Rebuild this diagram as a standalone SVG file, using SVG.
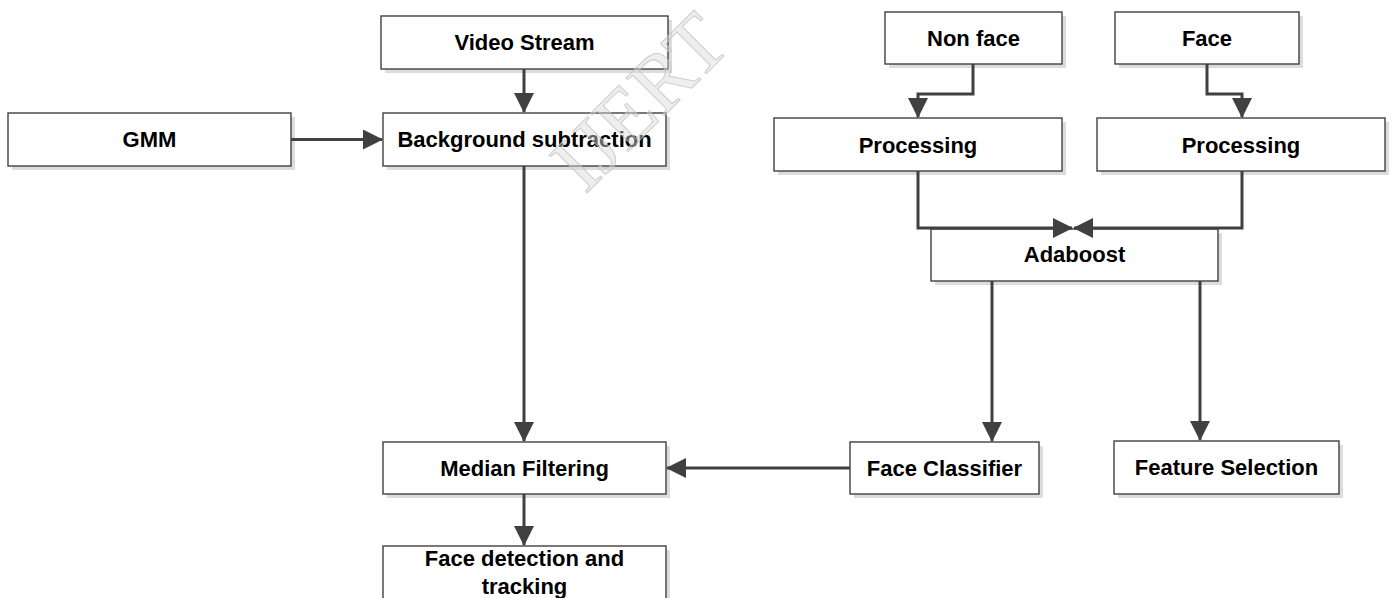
<svg xmlns="http://www.w3.org/2000/svg" width="1393" height="598" viewBox="0 0 1393 598">
<style>
.box{fill:#ffffff;stroke:#404040;stroke-width:1.4}
.shadow{fill:#dcdcdc}
.lbl{font-family:"Liberation Sans",Arial,sans-serif;font-weight:bold;font-size:22px;fill:#000;text-anchor:middle}
.conn{fill:none;stroke:#404040;stroke-width:3}
.wm{font-family:"Liberation Serif","Times New Roman",serif;font-size:82px;fill:#dadada;fill-opacity:0.45;stroke:#c0c0c0;stroke-opacity:0.7;stroke-width:1.1}
</style>
<defs>
<marker id="arr" viewBox="0 0 20 20" refX="19" refY="10" markerWidth="20" markerHeight="20" markerUnits="userSpaceOnUse" orient="auto">
<path d="M0,0 L20,10 L0,20 Z" fill="#404040"/>
</marker>
</defs>
<rect width="1393" height="598" fill="#ffffff"/>
<g id="video-stream"><rect class="shadow" x="385" y="20" width="287" height="53"/><rect class="box" x="381" y="16" width="287" height="53"/><text class="lbl" x="524.5" y="50">Video Stream</text></g>
<g id="gmm"><rect class="shadow" x="12" y="117" width="283" height="53"/><rect class="box" x="8" y="113" width="283" height="53"/><text class="lbl" x="149.5" y="147">GMM</text></g>
<g id="background-subtraction"><rect class="shadow" x="387" y="117" width="283" height="53"/><rect class="box" x="383" y="113" width="283" height="53"/><text class="lbl" x="524.5" y="147">Background subtraction</text></g>
<g id="non-face"><rect class="shadow" x="889" y="16" width="177" height="52"/><rect class="box" x="885" y="12" width="177" height="52"/><text class="lbl" x="973.5" y="46">Non face</text></g>
<g id="face"><rect class="shadow" x="1119" y="16" width="184" height="52"/><rect class="box" x="1115" y="12" width="184" height="52"/><text class="lbl" x="1207" y="46">Face</text></g>
<g id="processing-1"><rect class="shadow" x="778" y="122" width="288" height="53"/><rect class="box" x="774" y="118" width="288" height="53"/><text class="lbl" x="918" y="152.5">Processing</text></g>
<g id="processing-2"><rect class="shadow" x="1101" y="122" width="288" height="53"/><rect class="box" x="1097" y="118" width="288" height="53"/><text class="lbl" x="1241" y="152.5">Processing</text></g>
<g id="adaboost"><rect class="shadow" x="935" y="233" width="287" height="52"/><rect class="box" x="931" y="229" width="287" height="52"/><text class="lbl" x="1074.5" y="262">Adaboost</text></g>
<g id="median-filtering"><rect class="shadow" x="387" y="446" width="283" height="52"/><rect class="box" x="383" y="442" width="283" height="52"/><text class="lbl" x="524.5" y="476">Median Filtering</text></g>
<g id="face-classifier"><rect class="shadow" x="854" y="446" width="189" height="52"/><rect class="box" x="850" y="442" width="189" height="52"/><text class="lbl" x="944.5" y="476">Face Classifier</text></g>
<g id="feature-selection"><rect class="shadow" x="1118" y="445" width="225" height="53"/><rect class="box" x="1114" y="441" width="225" height="53"/><text class="lbl" x="1226.5" y="475">Feature Selection</text></g>
<g id="face-detection"><rect class="shadow" x="387" y="550" width="283" height="60"/><rect class="box" x="383" y="546" width="283" height="60"/><text class="lbl" x="524.5" y="566">Face detection and</text><text class="lbl" x="524.5" y="594">tracking</text></g>
<g id="connectors">
<path class="conn" d="M524,69 V112" marker-end="url(#arr)"/>
<path class="conn" d="M291,139.5 H382" marker-end="url(#arr)"/>
<path class="conn" d="M973,64 V94 H918 V117" marker-end="url(#arr)"/>
<path class="conn" d="M1207,64 V94 H1242 V117" marker-end="url(#arr)"/>
<path class="conn" d="M918,171 V228 H1072" marker-end="url(#arr)"/>
<path class="conn" d="M1242,171 V228 H1074" marker-end="url(#arr)"/>
<path class="conn" d="M524,166 V441" marker-end="url(#arr)"/>
<path class="conn" d="M992,281 V441" marker-end="url(#arr)"/>
<path class="conn" d="M1200,281 V440" marker-end="url(#arr)"/>
<path class="conn" d="M850,468 H667" marker-end="url(#arr)"/>
<path class="conn" d="M524,494 V545" marker-end="url(#arr)"/>
</g>
<text class="wm" transform="translate(585,195) rotate(-45)">IJERT</text>
</svg>
